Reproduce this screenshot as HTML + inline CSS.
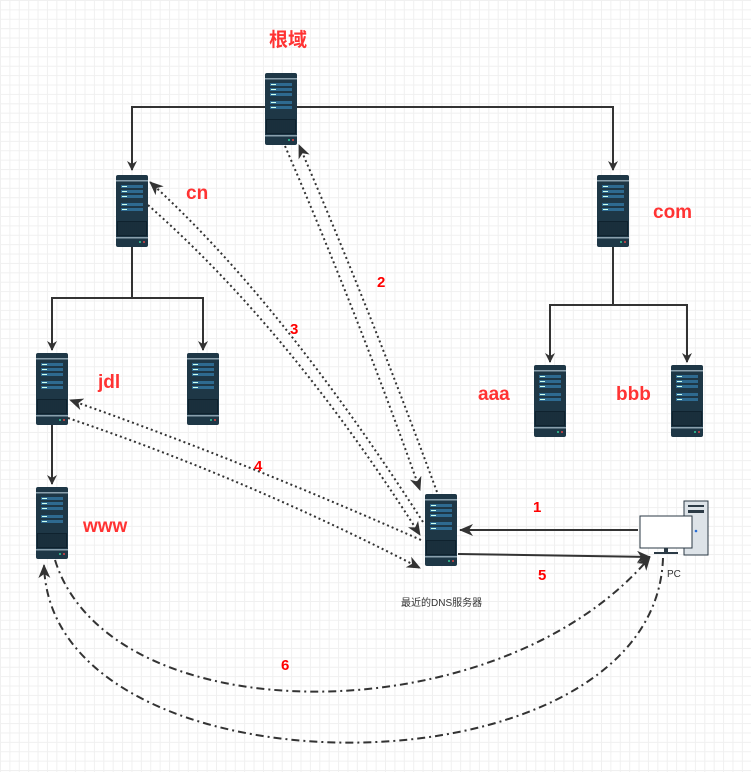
<!DOCTYPE html>
<html><head><meta charset="utf-8"><style>
html,body{margin:0;padding:0;background:#fff;}
body{width:751px;height:772px;overflow:hidden;
background-image:linear-gradient(#f0f0f0 1px,transparent 1px),linear-gradient(90deg,#f0f0f0 1px,transparent 1px);
background-size:9.4px 9.4px;}
</style></head><body>
<svg width="751" height="772" xmlns="http://www.w3.org/2000/svg" style="position:absolute;left:0;top:0">
<defs>
<marker id="ar" markerWidth="10" markerHeight="10" refX="9" refY="5" orient="auto" markerUnits="userSpaceOnUse"><path d="M0,0 L10,5 L0,10 L3,5 Z" fill="#333"/></marker>
<marker id="ar2" markerWidth="14" markerHeight="12" refX="13" refY="6" orient="auto" markerUnits="userSpaceOnUse"><path d="M0,0 L14,6 L0,12 L4,6 Z" fill="#333"/></marker>
<g id="srv">
<rect x="0" y="0" width="32" height="72" rx="2" fill="#1e3746"/>
<rect x="0" y="5" width="32" height="1.5" fill="#8aa0ad"/>
<rect x="5" y="10" width="22" height="3" fill="#2e6a90"/><rect x="6" y="11" width="5" height="1" fill="#cfe"/>
<rect x="5" y="15" width="22" height="3" fill="#2e6a90"/><rect x="6" y="16" width="5" height="1" fill="#cfe"/>
<rect x="5" y="20" width="22" height="3" fill="#2e6a90"/><rect x="6" y="21" width="5" height="1" fill="#cfe"/>
<rect x="5" y="28" width="22" height="3" fill="#2e6a90"/><rect x="6" y="29" width="5" height="1" fill="#cfe"/>
<rect x="5" y="33" width="22" height="3" fill="#2e6a90"/><rect x="6" y="34" width="5" height="1" fill="#cfe"/>
<rect x="1" y="46" width="30" height="15" fill="#0f222e"/>
<path d="M3,47V60M5,47V60M7,47V60M9,47V60M11,47V60M13,47V60M15,47V60M17,47V60M19,47V60M21,47V60M23,47V60M25,47V60M27,47V60M29,47V60" stroke="#2a4452" stroke-width="0.8"/>
<rect x="0" y="62" width="32" height="1.5" fill="#8aa0ad"/>
<circle cx="24" cy="67" r="1" fill="#3c9"/><circle cx="28" cy="67" r="1" fill="#d44"/>
</g>
</defs>
<g fill="none" stroke="#333" stroke-width="2">
<path d="M265,107H132V170" marker-end="url(#ar)"/>
<path d="M297,107H613V170" marker-end="url(#ar)"/>
<path d="M132,246V298H52V350" marker-end="url(#ar)"/>
<path d="M132,298H203V350" marker-end="url(#ar)"/>
<path d="M613,246V305H550V362" marker-end="url(#ar)"/>
<path d="M613,305H687V362" marker-end="url(#ar)"/>
<path d="M52,425V484" marker-end="url(#ar)"/>
<path d="M638,530H460" marker-end="url(#ar2)"/>
<path d="M458,554L650,557" marker-end="url(#ar2)"/>
</g>
<g fill="none" stroke="#333" stroke-width="2" stroke-dasharray="2,3">
<path d="M285,146Q360,320 420,490" marker-end="url(#ar2)"/>
<path d="M437,492Q370,310 299,145" marker-end="url(#ar2)"/>
<path d="M423,522Q280,300 150,182" marker-end="url(#ar2)"/>
<path d="M148,205Q290,330 420,535" marker-end="url(#ar2)"/>
<path d="M421,540Q240,460 70,400" marker-end="url(#ar2)"/>
<path d="M68,418Q250,480 420,568" marker-end="url(#ar2)"/>
</g>
<g fill="none" stroke="#333" stroke-width="2" stroke-dasharray="8,4,2,4">
<path d="M55,560C110,736 500,736 650,557" marker-end="url(#ar2)"/>
<path d="M663,558C655,803 50,803 44,565" marker-end="url(#ar2)"/>
</g>
<use href="#srv" x="265" y="73"/>
<use href="#srv" x="116" y="175"/>
<use href="#srv" x="597" y="175"/>
<use href="#srv" x="36" y="353"/>
<use href="#srv" x="187" y="353"/>
<use href="#srv" x="534" y="365"/>
<use href="#srv" x="671" y="365"/>
<use href="#srv" x="36" y="487"/>
<use href="#srv" x="425" y="494"/>
<rect x="684" y="501" width="24" height="54" fill="#dde3e8" stroke="#2b3a45" stroke-width="1"/>
<rect x="688" y="505" width="16" height="2" fill="#2b3a45"/>
<rect x="688" y="510" width="16" height="3" fill="#2b3a45"/>
<circle cx="696" cy="531" r="1.3" fill="#2a6fd6"/>
<rect x="640" y="516" width="52" height="32" fill="#fff" stroke="#2b3a45" stroke-width="1"/>
<rect x="664" y="548" width="4" height="4" fill="#2b3a45"/>
<rect x="654" y="552" width="24" height="2" fill="#2b3a45"/>
<g font-family="Liberation Sans, Noto Sans CJK SC, sans-serif" font-weight="bold" fill="#ff3333">
<text x="269" y="46" font-size="19" font-family="Noto Sans CJK SC, sans-serif">根域</text>
<text x="186" y="199" font-size="19">cn</text>
<text x="653" y="218" font-size="19">com</text>
<text x="98" y="388" font-size="19">jdl</text>
<text x="478" y="400" font-size="19">aaa</text>
<text x="616" y="400" font-size="19">bbb</text>
<text x="83" y="532" font-size="19">www</text>
</g>
<g font-family="Liberation Sans, sans-serif" font-weight="bold" fill="#ff0000" font-size="15">
<text x="377" y="287">2</text>
<text x="290" y="334">3</text>
<text x="254" y="471">4</text>
<text x="533" y="512">1</text>
<text x="538" y="580">5</text>
<text x="281" y="670">6</text>
</g>
<text x="667" y="577" font-family="Liberation Sans, sans-serif" font-size="10" fill="#333">PC</text>
<text x="401" y="606" font-family="Liberation Sans, Noto Sans CJK SC, sans-serif" font-size="10" fill="#333">最近的DNS服务器</text>
</svg>
</body></html>
